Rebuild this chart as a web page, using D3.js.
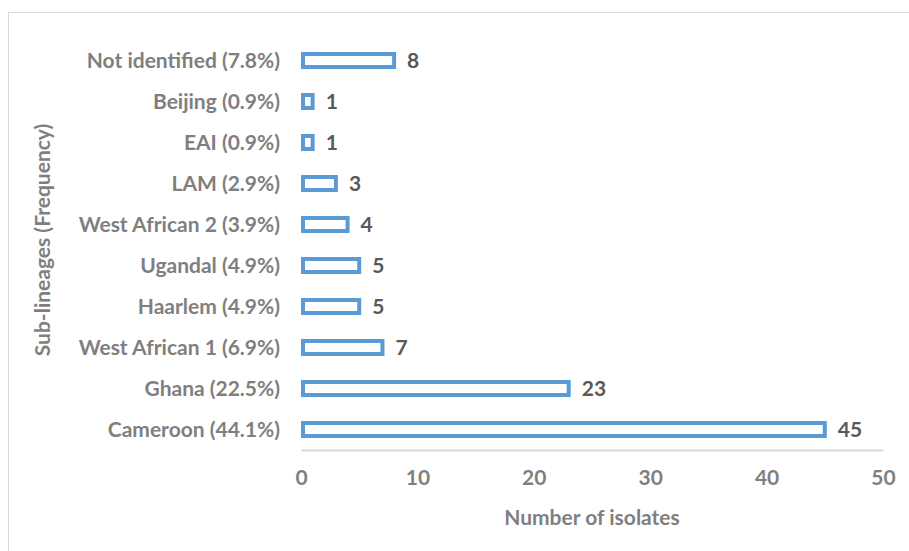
<!DOCTYPE html>
<html>
<head>
<meta charset="utf-8">
<script src="https://cdn.jsdelivr.net/npm/d3@7"></script>
<style>
  html, body { margin: 0; padding: 0; background: #ffffff; }
  svg { display: block; }
  text { font-family: Lato, "Open Sans", sans-serif; font-weight: bold; }
</style>
</head>
<body>
<svg id="chart" width="909" height="551"></svg>
<script>
// Sub-lineage counts, listed top to bottom
const categories = [
  "Not identified (7.8%)",
  "Beijing (0.9%)",
  "EAI (0.9%)",
  "LAM (2.9%)",
  "West African 2 (3.9%)",
  "Ugandal (4.9%)",
  "Haarlem (4.9%)",
  "West African 1 (6.9%)",
  "Ghana (22.5%)",
  "Cameroon (44.1%)"
];
const isolates = [8, 1, 1, 3, 4, 5, 5, 7, 23, 45];
const xTicks = [0, 10, 20, 30, 40, 50];

const svg = d3.select("#chart");
const labelFill = "#7f7f7f";
const fontSize = 21;

// chart frame
svg.append("rect")
  .attr("x", 8.5).attr("y", 12.5)
  .attr("width", 920).attr("height", 560)
  .attr("fill", "none").attr("stroke", "#d9d9d9").attr("stroke-width", 1);

const x = d3.scaleLinear().domain([0, 50]).range([301, 883]);
const y = d3.scaleBand().domain(categories).range([40, 450]);

const barH = 13;
const sw = 4;

// bars: white fill with blue outline
svg.append("g").selectAll("rect")
  .data(categories)
  .join("rect")
  .attr("x", x(0) + sw / 2)
  .attr("y", d => y(d) + y.bandwidth() / 2 - barH / 2)
  .attr("width", (d, i) => x(isolates[i]) - x(0) - sw / 2)
  .attr("height", barH)
  .attr("fill", "#ffffff")
  .attr("stroke", "#5b9bd5")
  .attr("stroke-width", sw);

// value labels
svg.append("g").selectAll("text")
  .data(categories)
  .join("text")
  .attr("x", (d, i) => x(isolates[i]) + 13)
  .attr("y", d => y(d) + y.bandwidth() / 2)
  .attr("dy", "0.36em")
  .attr("fill", "#595959")
  .attr("font-size", fontSize)
  .text((d, i) => isolates[i]);

// category labels
svg.append("g").selectAll("text")
  .data(categories)
  .join("text")
  .attr("x", 280)
  .attr("y", d => y(d) + y.bandwidth() / 2)
  .attr("dy", "0.36em")
  .attr("text-anchor", "end")
  .attr("fill", labelFill)
  .attr("font-size", fontSize)
  .text(d => d);

// x axis
const xAxis = d3.axisBottom(x).tickValues(xTicks).tickSize(0).tickPadding(20);
const gx = svg.append("g").attr("transform", "translate(0,450)").call(xAxis);
gx.select(".domain").attr("stroke", "#d9d9d9").attr("stroke-width", 2);
gx.selectAll("text")
  .attr("fill", labelFill)
  .attr("font-size", fontSize)
  .attr("font-family", "Lato, 'Open Sans', sans-serif")
  .attr("font-weight", "bold");

// axis titles
svg.append("text")
  .attr("x", 592).attr("y", 517)
  .attr("dy", "0.36em")
  .attr("text-anchor", "middle")
  .attr("fill", labelFill)
  .attr("font-size", fontSize)
  .text("Number of isolates");

svg.append("text")
  .attr("transform", "translate(42,240) rotate(-90)")
  .attr("dy", "0.36em")
  .attr("text-anchor", "middle")
  .attr("fill", labelFill)
  .attr("font-size", fontSize)
  .text("Sub-lineages (Frequency)");
</script>
</body>
</html>
